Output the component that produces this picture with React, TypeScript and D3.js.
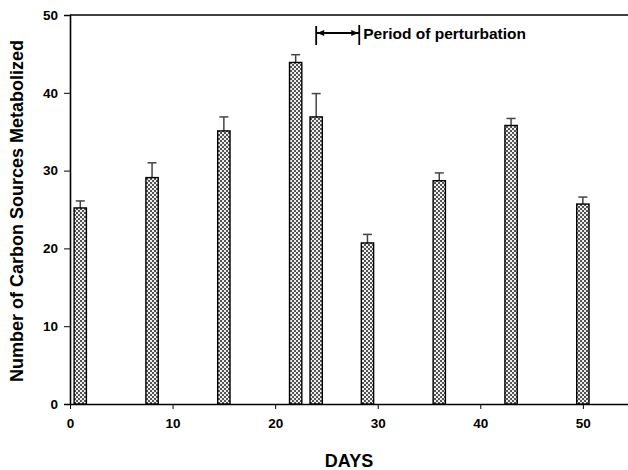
import React, { useEffect, useRef } from 'react';
import * as d3 from 'd3';

const days = [1, 8, 15, 22, 24, 29, 36, 43, 50];
const means = [25.2, 29.1, 35.1, 43.9, 36.9, 20.7, 28.7, 35.8, 25.7];
const errors = [0.9, 1.9, 1.8, 1.0, 3.0, 1.1, 1.0, 0.9, 0.9];
const xTicks = [0, 10, 20, 30, 40, 50];
const yTicks = [0, 10, 20, 30, 40, 50];
const perturbation = [24, 28.2];

const W = 628;
const H = 470;

const App = () => {
  const ref = useRef<SVGSVGElement>(null);

  useEffect(() => {
    const svg = d3.select(ref.current);
    svg.selectAll('*').remove();
    const font = 'Liberation Sans, Arial, sans-serif';

    const x = d3.scaleLinear().domain([0, 54.4]).range([70, 628]);
    const y = d3.scaleLinear().domain([0, 50]).range([404, 15]);
    const barW = x(1.2) - x(0);

    const defs = svg.append('defs');
    const pat = defs.append('pattern')
      .attr('id', 'dots')
      .attr('patternUnits', 'userSpaceOnUse')
      .attr('width', 4)
      .attr('height', 4);
    pat.append('rect').attr('width', 4).attr('height', 4).attr('fill', '#eeeeee');
    pat.append('circle').attr('cx', 1).attr('cy', 1).attr('r', 1).attr('fill', '#222');
    pat.append('circle').attr('cx', 3).attr('cy', 3).attr('r', 1).attr('fill', '#222');

    // frame
    svg.append('line')
      .attr('x1', 70).attr('x2', 628).attr('y1', y(50)).attr('y2', y(50))
      .attr('stroke', '#000').attr('stroke-width', 1.6);

    const yAxis = svg.append('g')
      .attr('transform', 'translate(70,0)')
      .call(d3.axisLeft(y).tickValues(yTicks).tickSize(6).tickPadding(6));
    yAxis.select('.domain').attr('stroke-width', 1.6);
    yAxis.selectAll('text')
      .attr('font-family', font).attr('font-weight', 'bold').attr('font-size', 13.5);

    const xAxis = svg.append('g')
      .attr('transform', `translate(0,${y(0)})`)
      .call(d3.axisBottom(x).tickValues(xTicks).tickSize(5).tickPadding(9).tickSizeOuter(0));
    xAxis.select('.domain').attr('stroke-width', 1.6);
    xAxis.selectAll('text')
      .attr('font-family', font).attr('font-weight', 'bold').attr('font-size', 13.5);

    // error bars (upper only)
    const eb = svg.append('g').attr('stroke', '#444').attr('stroke-width', 1.5);
    days.forEach((d, i) => {
      const top = y(means[i] + errors[i]);
      eb.append('line')
        .attr('x1', x(d)).attr('x2', x(d))
        .attr('y1', y(means[i])).attr('y2', top);
      eb.append('line')
        .attr('x1', x(d) - 4.5).attr('x2', x(d) + 4.5)
        .attr('y1', top).attr('y2', top);
    });

    svg.append('g')
      .selectAll('rect')
      .data(days)
      .enter().append('rect')
      .attr('x', d => x(d) - barW / 2)
      .attr('y', (d, i) => y(means[i]))
      .attr('width', barW)
      .attr('height', (d, i) => y(0) - y(means[i]))
      .attr('fill', 'url(#dots)')
      .attr('stroke', '#000')
      .attr('stroke-width', 1.4);

    // period of perturbation bracket
    const px0 = x(perturbation[0]);
    const px1 = x(perturbation[1]);
    const py = 33;
    const br = svg.append('g').attr('stroke', '#000').attr('stroke-width', 1.8);
    br.append('line').attr('x1', px0).attr('x2', px0).attr('y1', 26).attr('y2', 45);
    br.append('line').attr('x1', px1).attr('x2', px1).attr('y1', 25).attr('y2', 45);
    br.append('line').attr('x1', px0).attr('x2', px1).attr('y1', py).attr('y2', py);
    svg.append('path')
      .attr('d', `M${px0 + 1},${py} L${px0 + 8},${py - 3} L${px0 + 8},${py + 3} Z`)
      .attr('fill', '#000');
    svg.append('path')
      .attr('d', `M${px1 - 1},${py} L${px1 - 8},${py - 3} L${px1 - 8},${py + 3} Z`)
      .attr('fill', '#000');
    svg.append('text')
      .attr('x', px1 + 4).attr('y', 39)
      .attr('font-family', font).attr('font-weight', 'bold').attr('font-size', 15.5)
      .text('Period of perturbation');

    svg.append('text')
      .attr('x', 349).attr('y', 467)
      .attr('text-anchor', 'middle')
      .attr('font-family', font).attr('font-weight', 'bold').attr('font-size', 18)
      .text('DAYS');

    svg.append('text')
      .attr('transform', `translate(23,${y(24.8)}) rotate(-90)`)
      .attr('text-anchor', 'middle')
      .attr('font-family', font).attr('font-weight', 'bold').attr('font-size', 18)
      .text('Number of Carbon Sources Metabolized');
  }, []);

  return (
    <svg
      ref={ref}
      width={W}
      height={H}
      style={{ position: 'absolute', left: 0, top: 0, background: '#fff' }}
    />
  );
};

export default App;
